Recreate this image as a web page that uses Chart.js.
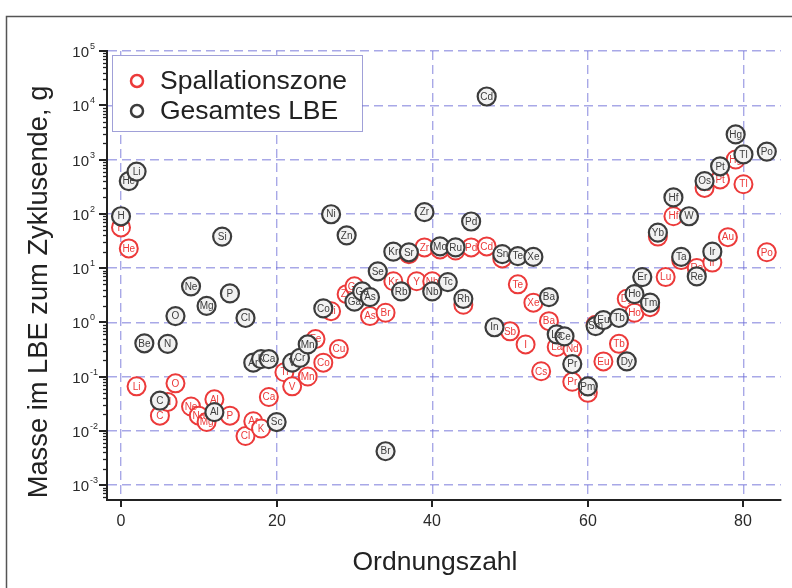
<!DOCTYPE html>
<html>
<head>
<meta charset="utf-8">
<script src="https://cdn.jsdelivr.net/npm/chart.js@4/dist/chart.umd.min.js"></script>
<style>
  html, body { margin: 0; padding: 0; background: #fff; }
  #wrap { width: 792px; height: 588px; position: relative; overflow: hidden; }
</style>
</head>
<body>
<div id="wrap"><canvas id="c" width="792" height="588"></canvas></div>
<script>
// Spallationszone (red)
const spallEl = ['H','He','Li','C','N','O','Ne','Na','Mg','Al','P','Cl','Ar','K','Ca','Ti','V','Mn','Fe','Co','Ni','Cu','Zn','Ga','As','Br','Kr','Sr','Y','Zr','Nb','Mo','Ru','Rh','Pd','Cd','Sn','Sb','Te','I','Xe','Cs','Ba','La','Nd','Pr','Pm','Sm','Eu','Tb','Dy','Ho','Tm','Yb','Lu','Hf','Ta','Re','Os','Ir','Pt','Au','Hg','Tl','Po'];
const spallZ  = [0,1,2,5,6,7,9,10,11,12,14,16,17,18,19,21,22,24,25,26,27,28,29,30,32,34,35,37,38,39,40,41,43,44,45,47,49,50,51,52,53,54,55,56,58,58,60,61,62,64,65,66,68,69,70,71,72,74,75,76,77,78,79,80,83];
const spallMass = [56,23,0.066,0.019,0.034,0.075,0.028,0.019,0.0145,0.038,0.019,0.008,0.015,0.011,0.042,0.12,0.066,0.10,0.49,0.18,1.6,0.32,3.3,4.6,1.3,1.5,5.7,18,5.7,24,5.7,22,21,2.1,24,25,15,0.68,5.0,0.39,2.3,0.125,1.05,0.35,0.32,0.08,0.05,0.9,0.19,0.4,2.7,1.5,1.9,38,6.8,90,14,10,300,12.6,430,37,1000,350,19.5];

// Gesamtes LBE (grey)
const lbeEl = ['H','He','Li','Be','C','N','O','Ne','Mg','Al','Si','P','Cl','Ar','K','Ca','Sc','V','Cr','Mn','Co','Ni','Zn','Ga','Ge','As','Se','Br','Kr','Rb','Sr','Zr','Nb','Mo','Tc','Ru','Rh','Pd','Cd','In','Sn','Te','Xe','Ba','La','Ce','Pr','Pm','Sm','Eu','Tb','Dy','Ho','Er','Tm','Yb','Hf','Ta','W','Re','Os','Ir','Pt','Hg','Tl','Po'];
const lbeZ  = [0,1,2,3,5,6,7,9,11,12,13,14,16,17,18,19,20,22,23,24,26,27,29,30,31,32,33,34,35,36,37,39,40,41,42,43,44,45,47,48,49,51,53,55,56,57,58,60,61,62,64,65,66,67,68,69,71,72,73,74,75,76,77,79,80,83];
const lbeMass = [90,400,600,0.41,0.036,0.40,1.3,4.6,2.0,0.022,38,3.4,1.2,0.18,0.21,0.21,0.0145,0.18,0.22,0.39,1.8,98,40,2.4,3.7,2.9,8.7,0.0042,20,3.7,19.5,107,3.7,25,5.5,24,2.7,72,14500,0.81,18,16.5,16,2.9,0.6,0.55,0.17,0.066,0.85,1.1,1.2,0.19,3.3,6.8,2.3,45,200,16,90,7,400,20,750,2900,1240,1400];

const xTicks = [0, 20, 40, 60, 80];
const yExps = [-3, -2, -1, 0, 1, 2, 3, 4, 5];
const seriesNames = ['Spallationszone', 'Gesamtes LBE'];

const RED = '#ec3a3a';
const GREY = '#3c3c3c';
const GRID = 'rgba(110,110,215,0.6)';
const SANS = '"Liberation Sans", Arial, sans-serif';
const NARROW = '"Liberation Sans Narrow", "Liberation Sans", Arial, sans-serif';

const toPoints = (els, zs, ms) => els.map((el, i) => ({ x: zs[i], y: ms[i], el }));

const elementLabels = {
  id: 'elementLabels',
  afterDatasetDraw(chart, args) {
    const ds = chart.data.datasets[args.index];
    const ctx = chart.ctx;
    ctx.save();
    ctx.font = '10px ' + SANS;
    ctx.fillStyle = ds.borderColor;
    ctx.textAlign = 'center';
    ctx.textBaseline = 'middle';
    args.meta.data.forEach((pt, i) => ctx.fillText(ds.data[i].el, pt.x, pt.y + 0.5));
    ctx.restore();
  }
};

const decorations = {
  id: 'decorations',
  beforeDraw(chart) {
    const ctx = chart.ctx;
    ctx.save();
    ctx.strokeStyle = '#555';
    ctx.lineWidth = 1.5;
    ctx.strokeRect(6.5, 16.5, 900, 900);
    ctx.restore();
  },
  afterDraw(chart) {
    const ctx = chart.ctx;
    const xs = chart.scales.x, ys = chart.scales.y;
    const area = chart.chartArea;
    ctx.save();
    ctx.strokeStyle = '#222';
    ctx.fillStyle = '#2a2a2a';

    // y ticks, minor and major
    ctx.lineWidth = 1.3;
    for (let n = -4; n <= 4; n++) {
      for (let k = 2; k <= 9; k++) {
        const v = k * Math.pow(10, n);
        if (v < ys.min || v > ys.max) continue;
        const py = Math.round(ys.getPixelForValue(v)) + 0.5;
        ctx.beginPath(); ctx.moveTo(area.left - 4, py); ctx.lineTo(area.left, py); ctx.stroke();
      }
    }
    ctx.lineWidth = 2;
    yExps.forEach(e => {
      const py = Math.round(ys.getPixelForValue(Math.pow(10, e)));
      ctx.beginPath(); ctx.moveTo(area.left - 8, py); ctx.lineTo(area.left, py); ctx.stroke();
      ctx.textAlign = 'right'; ctx.textBaseline = 'alphabetic';
      ctx.font = '15px ' + NARROW;
      ctx.fillText('10', 89, py + 6);
      ctx.textAlign = 'left';
      ctx.font = '9px ' + NARROW;
      ctx.fillText(String(e), 90, py - 2);
    });

    // x ticks
    xTicks.forEach(t => {
      const px = Math.round(xs.getPixelForValue(t));
      ctx.beginPath(); ctx.moveTo(px, area.bottom); ctx.lineTo(px, area.bottom + 7); ctx.stroke();
      ctx.textAlign = 'center'; ctx.textBaseline = 'middle';
      ctx.font = '16px ' + NARROW;
      ctx.fillText(String(t), px, 522);
    });

    // axis titles
    ctx.fillStyle = '#222';
    ctx.font = '26.5px ' + SANS;
    ctx.textAlign = 'center'; ctx.textBaseline = 'middle';
    ctx.fillText('Ordnungszahl', 435, 563);
    ctx.save();
    ctx.translate(39, 292);
    ctx.rotate(-Math.PI / 2);
    const yTitle = 'Masse im LBE zum Zyklusende, g';
    let fs = 24;
    ctx.font = fs + 'px ' + SANS;
    fs = fs * 412 / ctx.measureText(yTitle).width;
    ctx.font = fs.toFixed(1) + 'px ' + SANS;
    ctx.fillText(yTitle, 0, 0);
    ctx.restore();

    // legend
    ctx.fillStyle = '#fff';
    ctx.fillRect(112, 55, 250, 76);
    ctx.strokeStyle = 'rgba(120,120,200,0.7)';
    ctx.lineWidth = 1;
    ctx.strokeRect(112.5, 55.5, 250, 76);
    [RED, GREY].forEach((col, i) => {
      const cy = 81 + i * 30;
      ctx.beginPath();
      ctx.arc(137, cy, 6, 0, Math.PI * 2);
      ctx.strokeStyle = col; ctx.lineWidth = 2.5; ctx.stroke();
      ctx.fillStyle = '#222';
      ctx.font = '26.5px ' + SANS;
      ctx.textAlign = 'left'; ctx.textBaseline = 'middle';
      ctx.fillText(seriesNames[i], 160, cy + 1);
    });
    ctx.restore();
  }
};

new Chart(document.getElementById('c'), {
  type: 'scatter',
  data: {
    datasets: [
      { label: seriesNames[0], data: toPoints(spallEl, spallZ, spallMass), order: 1,
        borderColor: RED, backgroundColor: '#fff', pointRadius: 9, borderWidth: 2, pointHoverRadius: 9 },
      { label: seriesNames[1], data: toPoints(lbeEl, lbeZ, lbeMass), order: 0,
        borderColor: GREY, backgroundColor: '#f2f2f2', pointRadius: 9, borderWidth: 2.2, pointHoverRadius: 9 }
    ]
  },
  options: {
    responsive: false,
    animation: false,
    clip: false,
    layout: { padding: { left: 107, top: 51, right: 6, bottom: 88 } },
    plugins: { legend: { display: false }, tooltip: { enabled: false } },
    scales: {
      x: {
        type: 'linear', min: -1.8, max: 84.8,
        afterBuildTicks: (s) => { s.ticks = xTicks.map(v => ({ value: v })); },
        ticks: { display: false },
        grid: { color: GRID, lineWidth: 1.4, drawTicks: false },
        border: { display: true, color: '#222', width: 2, dash: [9, 5] }
      },
      y: {
        type: 'logarithmic', min: 5.3e-4, max: 1e5,
        afterBuildTicks: (s) => { s.ticks = yExps.map(e => ({ value: Math.pow(10, e) })); },
        ticks: { display: false },
        grid: { color: GRID, lineWidth: 1.4, drawTicks: false },
        border: { display: true, color: '#222', width: 2, dash: [9, 5] }
      }
    }
  },
  plugins: [elementLabels, decorations]
});
</script>
</body>
</html>
